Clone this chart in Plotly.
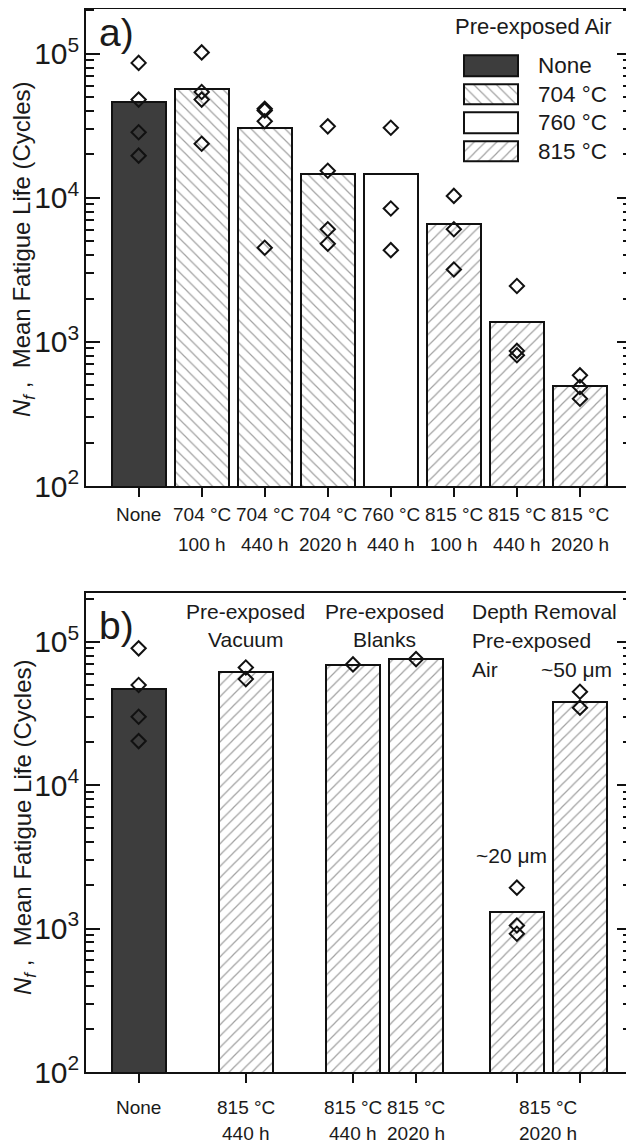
import plotly.graph_objects as go

# ---------------- data: panel a (pre-exposed in air) ----------------
a_line1 = ["None", "704 °C", "704 °C", "704 °C", "760 °C", "815 °C", "815 °C", "815 °C"]
a_line2 = ["", "100 h", "440 h", "2020 h", "440 h", "100 h", "440 h", "2020 h"]
a_temp = ["None", "704", "704", "704", "760", "815", "815", "815"]
a_pos = [0, 1, 2, 3, 4, 5, 6, 7]
a_mean = [46000, 57000, 30400, 14600, 14600, 6560, 1380, 491]
a_tests = [
    [86300, 48000, 28500, 19600],
    [102000, 54200, 48000, 23700],
    [41500, 40300, 34000, 4500],
    [31300, 15400, 6050, 4800],
    [30600, 8420, 4330],
    [10300, 6050, 3180],
    [2440, 866, 807],
    [586, 486, 403],
]

# ---------------- data: panel b ----------------
b_pos = [0, 1.7, 3.4, 4.4, 6, 7]
b_temp = ["None", "815", "815", "815", "815", "815"]
b_mean = [47000, 61200, 68900, 75700, 1315, 37800]
b_tests = [
    [90000, 49900, 30000, 20300],
    [66200, 54900],
    [69500],
    [75700],
    [1930, 1050, 920],
    [44800, 34700],
]
b_label_pos = [0, 1.7, 3.4, 4.4, 6.5]
b_line1 = ["None", "815 °C", "815 °C", "815 °C", "815 °C"]
b_line2 = ["", "440 h", "440 h", "2020 h", "2020 h"]

legend_keys = ["None", "704", "760", "815"]
legend_labels = ["None", "704 °C", "760 °C", "815 °C"]

# ---------------- styling ----------------
FONT = "Liberation Sans, Arial, Helvetica, sans-serif"
TXT = "#1a1a1a"
DARK = "#3d3d3d"
FILL = {"None": DARK, "704": "white", "760": "white", "815": "white"}
HATCH = {"None": "", "704": "\\", "760": "", "815": "/"}

# the page body adds an 8 px offset; work in page pixels
OFF = 8
PAGE_W, PAGE_H = 634, 1144
W, H = PAGE_W - OFF, PAGE_H - OFF
LEFT, RIGHT, TOP, BOTTOM = 86, 631, 9, 1072       # plot area, page pixels
ML, MR = LEFT - OFF, W - (RIGHT - OFF)
MT, MB = TOP - OFF, H - (BOTTOM - OFF)
PH = BOTTOM - TOP
PW = RIGHT - LEFT


def py(p):
    """page pixel row -> paper y"""
    return 1 - (p - TOP) / PH


def px(p):
    return (p - LEFT) / PW


def bar_marker(temps):
    return dict(
        color=[FILL[t] for t in temps],
        line=dict(color="#111", width=2),
        pattern=dict(shape=[HATCH[t] for t in temps], fgcolor="#555",
                     bgcolor="white", size=8, solidity=0.15),
    )


DIAMOND = dict(symbol="diamond-open", size=11, color="#111", line=dict(width=2, color="#111"))

fig = go.Figure()

BW = 0.855
fig.add_trace(go.Bar(x=a_pos, y=a_mean, width=BW, marker=bar_marker(a_temp),
                     xaxis="x", yaxis="y", showlegend=False))
ax_, ay_ = [], []
for p, vals in zip(a_pos, a_tests):
    ax_ += [p] * len(vals)
    ay_ += vals
fig.add_trace(go.Scatter(x=ax_, y=ay_, mode="markers", xaxis="x", yaxis="y",
                         marker=DIAMOND, showlegend=False))

fig.add_trace(go.Bar(x=b_pos, y=b_mean, width=BW, marker=bar_marker(b_temp),
                     xaxis="x2", yaxis="y2", showlegend=False))
bx_, by_ = [], []
for p, vals in zip(b_pos, b_tests):
    bx_ += [p] * len(vals)
    by_ += vals
fig.add_trace(go.Scatter(x=bx_, y=by_, mode="markers", xaxis="x2", yaxis="y2",
                         marker=DIAMOND, showlegend=False))

# legend swatches (inset axes)
fig.add_trace(go.Bar(x=[1] * len(legend_keys), y=list(range(len(legend_keys))),
                     orientation="h", width=0.717, marker=bar_marker(legend_keys),
                     xaxis="x3", yaxis="y3", showlegend=False, hoverinfo="skip"))

XR = [-0.835, 7.81]
xcommon = dict(range=XR, showgrid=False, zeroline=False, showline=True, linewidth=2,
               linecolor="#111", mirror=True, ticks="outside", ticklen=9, tickwidth=2,
               tickcolor="#111", showticklabels=False, tickmode="array")
ycommon = dict(type="log", showgrid=False, zeroline=False, showline=True, linewidth=2,
               linecolor="#111", mirror="allticks", ticks="inside", ticklen=14,
               tickwidth=2, tickcolor="#111", tickmode="linear", tick0=0, dtick=1,
               exponentformat="power", showexponent="all",
               tickfont=dict(family=FONT, size=24, color=TXT),
               minor=dict(dtick="D1", ticks="inside", ticklen=8,
                          tickwidth=2, tickcolor="#111", showgrid=False))

fig.update_layout(
    width=W, height=H,
    margin=dict(l=ML, r=MR, t=MT, b=MB, autoexpand=False),
    paper_bgcolor="white", plot_bgcolor="white",
    font=dict(family=FONT, color=TXT),
    bargap=0,
    xaxis=dict(**xcommon, domain=[0, 1], anchor="y", tickvals=a_pos),
    yaxis=dict(**ycommon, domain=[py(486), 1], range=[2, 5.31], anchor="x"),
    xaxis2=dict(**xcommon, domain=[0, 1], anchor="y2", tickvals=b_pos),
    yaxis2=dict(**ycommon, domain=[0, py(593)], range=[2, 5.34], anchor="x2"),
    xaxis3=dict(domain=[px(463), px(519)], range=[-0.02, 1.02], visible=False,
                anchor="y3", fixedrange=True),
    yaxis3=dict(domain=[py(165.6), py(51.2)], range=[3.5, -0.5], visible=False,
                anchor="x3", fixedrange=True),
)

ann = []


def label(text, x, y, xref="paper", yref="paper", size=19, xanchor="center", **kw):
    ann.append(dict(text=text, x=x, y=y, xref=xref, yref=yref, showarrow=False,
                    xanchor=xanchor, yanchor="middle",
                    font=dict(family=FONT, size=size, color=TXT), **kw))


# category labels, panel a
for p, l1, l2 in zip(a_pos, a_line1, a_line2):
    label(l1, p, py(514), xref="x")
    if l2:
        label(l2, p, py(544), xref="x")
# category labels, panel b
for p, l1, l2 in zip(b_label_pos, b_line1, b_line2):
    label(l1, p, py(1107), xref="x2")
    if l2:
        label(l2, p, py(1133), xref="x2")

# y-axis titles
ytitle = "<i>N</i><sub><i>f</i></sub>\u00a0,\u00a0\u00a0Mean Fatigue Life (Cycles)"
label(ytitle, px(24), py(250), size=24, textangle=-90)
label(ytitle, px(24), py(828), size=24, textangle=-90)

# panel letters
label("a)", px(97), py(32), size=39, xanchor="left")
label("b)", px(97), py(625), size=39, xanchor="left")

# legend
label("Pre-exposed Air", px(614), py(27), size=22, xanchor="right")
for i, t in enumerate(legend_labels):
    label(t, 1, i, xref="x3 domain", yref="y3", size=22.5, xanchor="left", xshift=17)

# panel b group labels
label("Pre-exposed", 1.7, py(611), xref="x2", size=21)
label("Vacuum", 1.7, py(639), xref="x2", size=21)
label("Pre-exposed", 3.9, py(611), xref="x2", size=21)
label("Blanks", 3.9, py(639), xref="x2", size=21)
label("Depth Removal", 5.25, py(611), xref="x2", size=21, xanchor="left")
label("Pre-exposed", 5.25, py(640), xref="x2", size=21, xanchor="left")
label("Air", 5.25, py(669), xref="x2", size=21, xanchor="left")
label("~50 μm", 6.94, py(669), xref="x2", size=21)
label("~20 μm", 5.92, py(855), xref="x2", size=21)

fig.update_layout(annotations=ann)
fig.write_html("out.html")
